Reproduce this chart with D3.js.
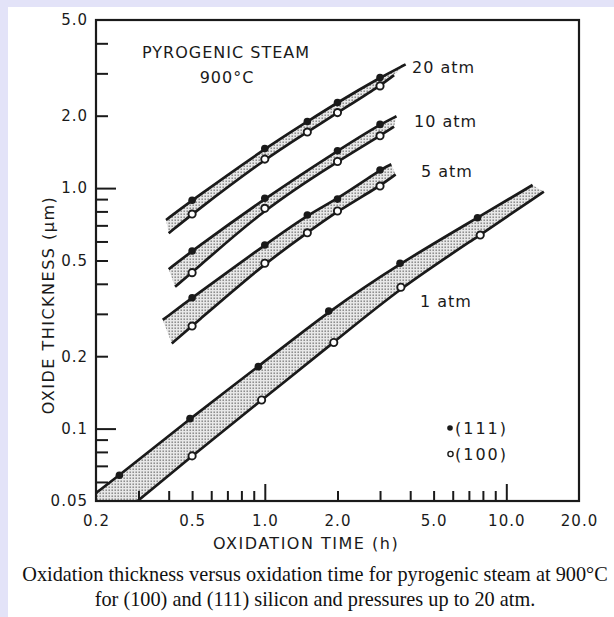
<!DOCTYPE html>
<html><head><meta charset="utf-8">
<script src="https://cdn.jsdelivr.net/npm/d3@7"></script>
<style>html,body{margin:0;padding:0;background:#fff;overflow:hidden}</style>
</head><body>
<svg id="c" width="614" height="617"></svg>
<script>
// ---- tick data ----
const xTickValues = [0.2, 0.5, 1, 2, 5, 10, 20];
const xTickLabels = ["0.2", "0.5", "1.0", "2.0", "5.0", "10.0", "20.0"];
const yTickValues = [5, 2, 1, 0.5, 0.2, 0.1, 0.05];
const yTickLabels = ["5.0", "2.0", "1.0", "0.5", "0.2", "0.1", "0.05"];
const xMinorTicks = [0.3, 0.4, 0.5, 0.6, 0.7, 0.8, 0.9, 2, 3, 4, 5, 6, 7, 8, 9];
const xMajorTicks = [1, 10];
const yMinorTicks = [4, 3, 2, 0.9, 0.8, 0.7, 0.6, 0.5, 0.4, 0.3, 0.2, 0.09, 0.08, 0.07, 0.06];
const yMajorTicks = [1, 0.1];

// ---- series data (time h, thickness um) ----
const pressures = ["20 atm", "10 atm", "5 atm", "1 atm"];
const time20 = [0.5, 1.0, 1.5, 2.0, 3.0];
const si111_20 = [0.89, 1.46, 1.89, 2.27, 2.88];
const si100_20 = [0.78, 1.32, 1.71, 2.06, 2.66];
const ends111_20 = [[0.39, 0.737], [3.83, 3.27]];
const ends100_20 = [[0.40, 0.649], [3.43, 2.95]];

const time10 = [0.5, 1.0, 2.0, 3.0];
const si111_10 = [0.548, 0.907, 1.43, 1.84];
const si100_10 = [0.445, 0.824, 1.29, 1.65];
const ends111_10 = [[0.40, 0.46], [3.51, 1.99]];
const ends100_10 = [[0.425, 0.389], [3.43, 1.80]];

const time5 = [0.5, 1.0, 1.5, 2.0, 3.0];
const si111_5 = [0.35, 0.58, 0.773, 0.90, 1.19];
const si100_5 = [0.267, 0.487, 0.652, 0.803, 1.02];
const ends111_5 = [[0.378, 0.283], [3.34, 1.256]];
const ends100_5 = [[0.412, 0.226], [3.48, 1.14]];

const time1_111 = [0.25, 0.49, 0.94, 1.84, 3.63, 7.6];
const si111_1 = [0.064, 0.11, 0.181, 0.308, 0.487, 0.753];
const time1_100 = [0.5, 0.97, 1.93, 3.66, 7.8];
const si100_1 = [0.077, 0.1315, 0.228, 0.387, 0.638];
const ends111_1 = [[0.2, 0.054], [12.85, 1.03]];
const ends100_1 = [[0.2, 0.036], [14.3, 0.966]];

const legendLabels = ["(111)", "(100)"];
const captionLines = [
  "Oxidation thickness versus oxidation time for pyrogenic steam at 900°C",
  "for (100) and (111) silicon and pressures up to 20 atm."
];

// ---- drawing ----
const svg = d3.select("#c");
const L = 96, R = 579, T = 20, B = 501;
const x = d3.scaleLog().domain([0.2, 20]).range([L, R]);
const y = d3.scaleLog().domain([0.05, 5]).range([B, T]);

// page background: lavender strips at top and left
svg.append("rect").attr("width", 614).attr("height", 617).attr("fill", "#e3e3f8");
svg.append("rect").attr("x", 8).attr("y", 7).attr("width", 606).attr("height", 610).attr("fill", "#ffffff");

const defs = svg.append("defs");
const pat = defs.append("pattern").attr("id", "dots").attr("patternUnits", "userSpaceOnUse")
  .attr("width", 3).attr("height", 3);
pat.append("rect").attr("width", 3).attr("height", 3).attr("fill", "#e8e8e8");
pat.append("rect").attr("x", 0.5).attr("y", 0.5).attr("width", 1.4).attr("height", 1.4).attr("fill", "#7a7a7a");
defs.append("clipPath").attr("id", "plotclip").append("rect")
  .attr("x", L).attr("y", T).attr("width", R - L).attr("height", B - T);

const ink = "#1a1a1a";
const font = "'DejaVu Sans', sans-serif";

const zip = (t, v) => t.map((d, i) => [d, v[i]]);
const series = [
  {p: pressures[0], up: [ends111_20[0], ...zip(time20, si111_20), ends111_20[1]], lo: [ends100_20[0], ...zip(time20, si100_20), ends100_20[1]], f: zip(time20, si111_20), o: zip(time20, si100_20)},
  {p: pressures[1], up: [ends111_10[0], ...zip(time10, si111_10), ends111_10[1]], lo: [ends100_10[0], ...zip(time10, si100_10), ends100_10[1]], f: zip(time10, si111_10), o: zip(time10, si100_10)},
  {p: pressures[2], up: [ends111_5[0], ...zip(time5, si111_5), ends111_5[1]], lo: [ends100_5[0], ...zip(time5, si100_5), ends100_5[1]], f: zip(time5, si111_5), o: zip(time5, si100_5)},
  {p: pressures[3], up: [ends111_1[0], ...zip(time1_111, si111_1), ends111_1[1]], lo: [ends100_1[0], ...zip(time1_100, si100_1), ends100_1[1]], f: zip(time1_111, si111_1), o: zip(time1_100, si100_1)}
];

const line = d3.line().x(d => x(d[0])).y(d => y(d[1])).curve(d3.curveBasis);

const plot = svg.append("g").attr("clip-path", "url(#plotclip)");
series.forEach(s => {
  const up = line(s.up);
  const lo = line(s.lo.slice().reverse());
  plot.append("path").attr("d", up + lo.replace(/^M/, "L") + "Z").attr("fill", "url(#dots)");
  plot.append("path").attr("d", up).attr("fill", "none").attr("stroke", ink).attr("stroke-width", 2.7);
  plot.append("path").attr("d", line(s.lo)).attr("fill", "none").attr("stroke", ink).attr("stroke-width", 2.7);
  plot.selectAll(null).data(s.f).join("circle")
    .attr("cx", d => x(d[0])).attr("cy", d => y(d[1])).attr("r", 3.8).attr("fill", ink);
  plot.selectAll(null).data(s.o).join("circle")
    .attr("cx", d => x(d[0])).attr("cy", d => y(d[1])).attr("r", 3.6)
    .attr("fill", "#fff").attr("stroke", ink).attr("stroke-width", 1.9);
});

// frame
svg.append("rect").attr("x", L).attr("y", T).attr("width", R - L).attr("height", B - T)
  .attr("fill", "none").attr("stroke", ink).attr("stroke-width", 2.2);

// ticks (inside)
function ticks(axisFn, scale, vals, size, tr) {
  const g = svg.append("g").attr("transform", tr)
    .call(axisFn(scale).tickValues(vals).tickSize(-size).tickFormat(""));
  g.select(".domain").remove();
  g.selectAll("line").attr("stroke", ink).attr("stroke-width", 2);
}
ticks(d3.axisBottom, x, xMinorTicks, 10, `translate(0,${B})`);
ticks(d3.axisBottom, x, xMajorTicks, 17, `translate(0,${B})`);
ticks(d3.axisLeft, y, yMinorTicks, 12, `translate(${L},0)`);
ticks(d3.axisLeft, y, yMajorTicks, 20, `translate(${L},0)`);

// tick labels
const gx = svg.append("g").attr("transform", `translate(0,${B})`)
  .call(d3.axisBottom(x).tickValues(xTickValues).tickSize(0).tickPadding(14)
    .tickFormat((d, i) => xTickLabels[i]));
gx.select(".domain").remove();
gx.selectAll("text").attr("font-family", font).attr("font-size", 15).attr("fill", ink)
  .style("letter-spacing", "1px");
const gy = svg.append("g").attr("transform", `translate(${L},0)`)
  .call(d3.axisLeft(y).tickValues(yTickValues).tickSize(0).tickPadding(8)
    .tickFormat((d, i) => yTickLabels[i]));
gy.select(".domain").remove();
gy.selectAll("text").attr("font-family", font).attr("font-size", 15).attr("fill", ink)
  .style("letter-spacing", "1px");

// axis titles
svg.append("text").attr("x", 306).attr("y", 549).attr("text-anchor", "middle")
  .attr("font-family", font).attr("font-size", 16).attr("fill", ink).style("letter-spacing", "1.5px")
  .text("OXIDATION TIME  (h)");
svg.append("text").attr("transform", "translate(54,305) rotate(-90)").attr("text-anchor", "middle")
  .attr("font-family", font).attr("font-size", 16).attr("fill", ink).style("letter-spacing", "1.5px")
  .text("OXIDE THICKNESS (μm)");

// annotations
const ann = (t, xx, yy, anchor) => svg.append("text").attr("x", xx).attr("y", yy)
  .attr("text-anchor", anchor || "start").attr("font-family", font).attr("font-size", 16)
  .attr("fill", ink).style("letter-spacing", "1px").text(t);
ann("PYROGENIC STEAM", 226, 58, "middle");
ann("900°C", 227, 83, "middle");
ann(pressures[0], 412, 73);
ann(pressures[1], 414, 127);
ann(pressures[2], 421, 177);
ann(pressures[3], 420, 307);

// legend
svg.append("circle").attr("cx", 450).attr("cy", 428).attr("r", 2.8).attr("fill", ink);
svg.append("circle").attr("cx", 450.5).attr("cy", 454).attr("r", 2.6).attr("fill", "#fff")
  .attr("stroke", ink).attr("stroke-width", 1.4);
ann(legendLabels[0], 455, 434).style("letter-spacing", "2px");
ann(legendLabels[1], 455, 460).style("letter-spacing", "2px");

// caption
captionLines.forEach((t, i) => {
  svg.append("text").attr("x", 315).attr("y", 581 + i * 25).attr("text-anchor", "middle")
    .attr("font-family", "'Liberation Serif', 'Times New Roman', serif").attr("font-size", 20.3)
    .attr("fill", "#111").text(t);
});
</script>
</body></html>
